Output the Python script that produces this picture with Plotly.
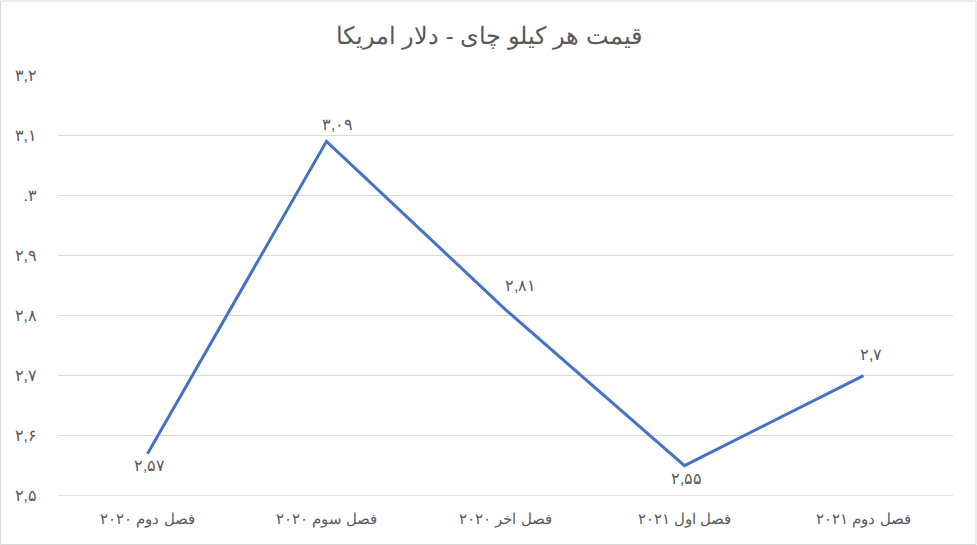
import plotly.graph_objects as go

quarters = ['فصل دوم ۲۰۲۰', 'فصل سوم ۲۰۲۰', 'فصل اخر ۲۰۲۰', 'فصل اول ۲۰۲۱', 'فصل دوم ۲۰۲۱']
prices = [2.57, 3.09, 2.81, 2.55, 2.7]
price_labels = ['۲,۵۷', '۳,۰۹', '۲,۸۱', '۲,۵۵', '۲,۷']
y_ticks = [2.5, 2.6, 2.7, 2.8, 2.9, 3.0, 3.1, 3.2]
y_tick_text = ['۲,۵', '۲,۶', '۲,۷', '۲,۸', '۲,۹', '.۳', '۳,۱', '۳,۲']

# label offsets in pixels (x, y)
label_shift = [(2, -12), (11, 17), (15, 24), (2, -13), (7, 21)]

grey = '#595959'
fnt = 'Liberation Sans, Arial, sans-serif'

fig = go.Figure(go.Scatter(
    x=quarters,
    y=prices,
    mode='lines',
    line=dict(color='#4472C4', width=3),
    hoverinfo='skip',
))

for q, p, t, (dx, dy) in zip(quarters, prices, price_labels, label_shift):
    fig.add_annotation(x=q, y=p, text=t, showarrow=False, xshift=dx, yshift=dy,
                       font=dict(size=16, color=grey, family=fnt))

fig.update_layout(
    width=977,
    height=545,
    margin=dict(l=58, r=24, t=75, b=49),
    paper_bgcolor='white',
    plot_bgcolor='white',
    showlegend=False,
    title=dict(text='قیمت هر کیلو چای - دلار امریکا', x=0.5, xanchor='center',
               y=0.935, yanchor='middle',
               font=dict(size=24, color=grey, family=fnt)),
    font=dict(family=fnt, color=grey),
)

fig.update_xaxes(showgrid=False, showline=False, zeroline=False,
                 range=[-0.5, 4.5], ticklabelstandoff=12,
                 tickfont=dict(size=15, color=grey, family=fnt), ticks='')
fig.update_yaxes(range=[2.4995, 3.2005], tickvals=y_ticks, ticktext=y_tick_text,
                 showgrid=True, gridcolor='#D9D9D9', gridwidth=1,
                 zeroline=False, showline=False, ticks='',
                 ticklabelstandoff=20,
                 tickfont=dict(size=16, color=grey, family=fnt))

# bottom axis line
fig.add_shape(type='line', xref='paper', yref='y', x0=0, x1=1, y0=2.5, y1=2.5,
              line=dict(color='#D9D9D9', width=1), layer='below')
# chart border
fig.add_shape(type='rect', xref='paper', yref='paper',
              x0=-57.5 / 895, x1=1 + 23 / 895, y0=-48.5 / 421, y1=1 + 74 / 421,
              line=dict(color='#D9D9D9', width=1))

fig.write_html('out.html', config={'displayModeBar': False},
               post_script="document.body.style.margin='0';")
